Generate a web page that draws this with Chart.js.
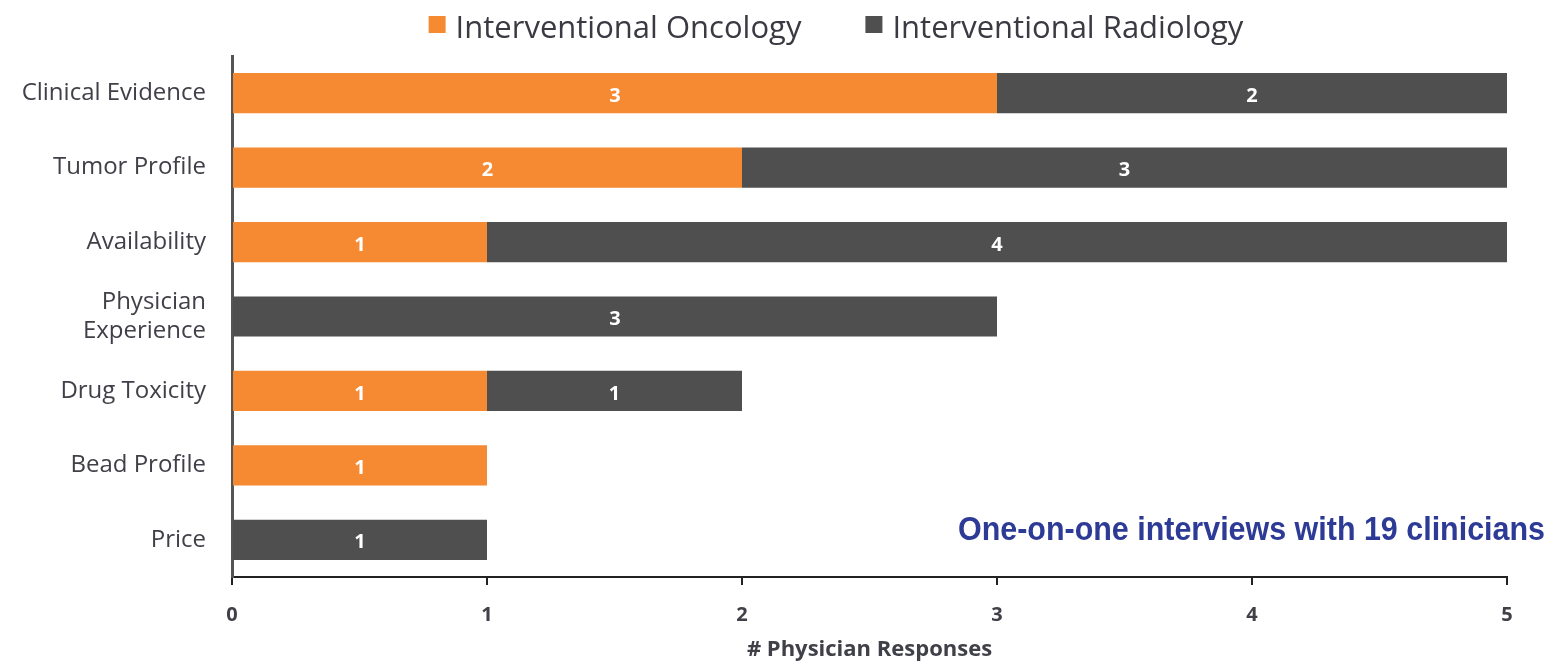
<!DOCTYPE html>
<html>
<head>
<meta charset="utf-8">
<script src="https://cdn.jsdelivr.net/npm/chart.js@4.4.1/dist/chart.umd.min.js"></script>
<style>
  html, body { margin: 0; padding: 0; background: #fff; }
  #wrap { width: 1552px; height: 663px; }
</style>
</head>
<body>
<div id="wrap"><canvas id="chart" width="1552" height="663"></canvas></div>
<script>
'use strict';

// data
let categories = ['Clinical Evidence', 'Tumor Profile', 'Availability', ['Physician', 'Experience'], 'Drug Toxicity', 'Bead Profile', 'Price'];
let oncologyValues = [3, 2, 1, 0, 1, 1, 0];
let radiologyValues = [2, 3, 4, 3, 1, 0, 1];
let xTicks = [0, 1, 2, 3, 4, 5];
let seriesNames = ['Interventional Oncology', 'Interventional Radiology'];
let noteText = 'One-on-one interviews with 19 clinicians';

const orange = '#F58A32';
const darkGray = '#4F4F4F';
const labelGray = '#404048';

// white numbers in the middle of each bar piece
const barValues = {
    id: 'barValues',
    afterDatasetsDraw(chart) {
        const ctx = chart.ctx;
        ctx.save();
        ctx.fillStyle = '#ffffff';
        ctx.font = 'bold 20px "Open Sans"';
        ctx.textAlign = 'center';
        ctx.textBaseline = 'middle';
        chart.data.datasets.forEach((ds, i) => {
            const meta = chart.getDatasetMeta(i);
            meta.data.forEach((bar, j) => {
                const v = ds.data[j];
                if (!v) return;
                const p = bar.getProps(['x', 'y', 'base'], true);
                ctx.fillText(String(v), (p.x + p.base) / 2, p.y + 3);
            });
        });
        ctx.restore();
    }
};

// legend drawn by hand so the spacing can follow the picture
const topLegend = {
    id: 'topLegend',
    afterDraw(chart) {
        const ctx = chart.ctx;
        const box = 17, textGap = 10, itemGap = 64, centerX = 836, y = 29;
        ctx.save();
        ctx.font = '31px "Open Sans"';
        ctx.textBaseline = 'middle';
        const items = chart.data.datasets.map(ds => ({
            text: ds.label,
            color: ds.backgroundColor,
            w: ctx.measureText(ds.label).width
        }));
        let total = 0;
        items.forEach((it, i) => {
            total += box + textGap + it.w + (i ? itemGap : 0);
        });
        let x = centerX - total / 2;
        items.forEach(it => {
            ctx.fillStyle = it.color;
            ctx.fillRect(x, y - 13, box, box);
            ctx.fillStyle = '#3a3a42';
            ctx.fillText(it.text, x + box + textGap, y);
            x += box + textGap + it.w + itemGap;
        });
        ctx.restore();
    }
};

// blue note bottom right
const note = {
    id: 'note',
    afterDraw(chart) {
        const ctx = chart.ctx;
        ctx.save();
        ctx.font = 'bold 34px "Liberation Sans"';
        ctx.fillStyle = '#2E3B96';
        ctx.textBaseline = 'middle';
        const w = ctx.measureText(noteText).width;
        const target = 587;
        ctx.translate(1545 - target, 531);
        ctx.scale(target / w, 1);
        ctx.fillText(noteText, 0, 0);
        ctx.restore();
    }
};

const chartObj = document.getElementById('chart').getContext('2d');

let chart = new Chart(chartObj, {
    type: 'bar',
    data: {
        labels: categories,
        datasets: [{
            label: seriesNames[0],
            data: oncologyValues,
            backgroundColor: orange,
            barPercentage: 0.54,
            categoryPercentage: 1
        }, {
            label: seriesNames[1],
            data: radiologyValues,
            backgroundColor: darkGray,
            barPercentage: 0.54,
            categoryPercentage: 1
        }]
    },
    options: {
        indexAxis: 'y',
        responsive: false,
        animation: false,
        layout: { padding: { left: 0, right: 45, top: 56, bottom: 0 } },
        plugins: {
            legend: { display: false },
            tooltip: { enabled: false }
        },
        scales: {
            x: {
                stacked: true,
                min: 0,
                max: 5,
                afterBuildTicks(scale) {
                    scale.ticks = xTicks.map(v => ({ value: v }));
                },
                afterFit(scale) { scale.height = 86; },
                grid: {
                    drawOnChartArea: false,
                    drawTicks: true,
                    tickLength: 8,
                    color: '#222',
                    lineWidth: 2
                },
                border: { display: true, color: '#222', width: 2 },
                ticks: {
                    font: { family: 'Open Sans', size: 20, weight: 'bold' },
                    color: labelGray,
                    padding: 18
                },
                title: {
                    display: true,
                    text: '# Physician Responses',
                    font: { family: 'Open Sans', size: 22, weight: 'bold' },
                    color: labelGray,
                    padding: { top: 7, bottom: 0 }
                }
            },
            y: {
                stacked: true,
                afterFit(scale) { scale.width = 232; },
                grid: { display: false, drawTicks: false },
                border: { display: true, color: '#555', width: 3 },
                ticks: {
                    font: { family: 'Open Sans', size: 24 },
                    color: labelGray,
                    padding: 26
                }
            }
        }
    },
    plugins: [barValues, topLegend, note]
});
</script>
</body>
</html>
